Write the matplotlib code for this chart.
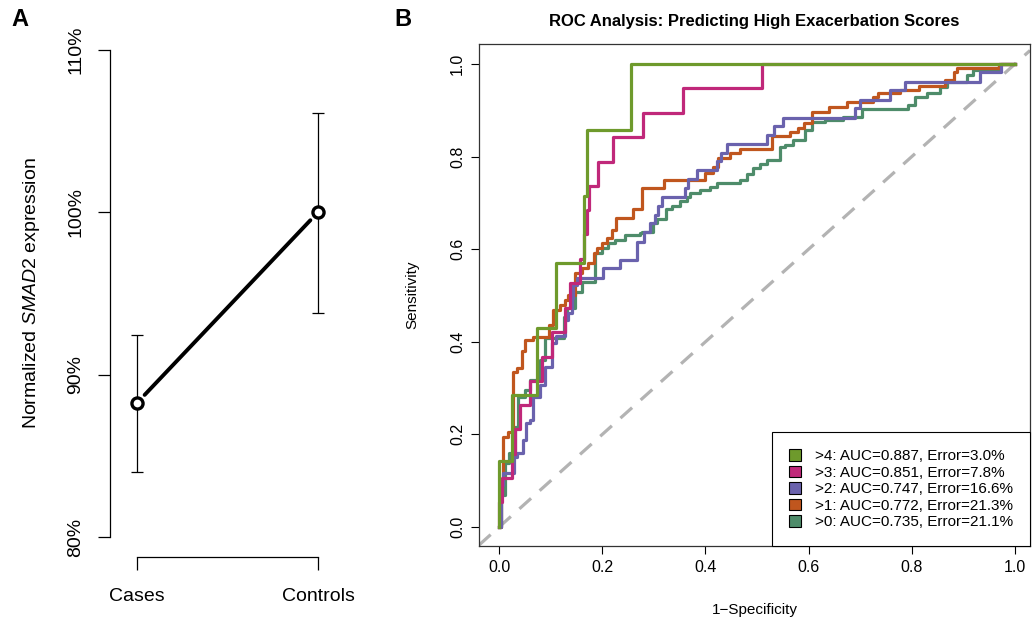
import numpy as np
import matplotlib
matplotlib.use("Agg")
import matplotlib.pyplot as plt
from matplotlib.patches import Patch

plt.rcParams['font.family'] = 'Liberation Sans'
plt.rcParams['mathtext.fontset'] = 'custom'
plt.rcParams['mathtext.it'] = 'Liberation Sans:italic'
plt.rcParams['mathtext.rm'] = 'Liberation Sans'

# panel A: normalized expression
groups = ['Cases', 'Controls']
means = [88.27, 100.0]
lower = [84.02, 93.83]
upper = [92.47, 106.10]
pct_ticks = [80, 90, 100, 110]
pct_labels = ['80%', '90%', '100%', '110%']

# panel B: ROC curves (step corners, fpr -> tpr)
green_fpr = [0, 0, 0.025, 0.074, 0.110, 0.164, 0.171, 0.256, 1.0]
green_tpr = [0, 0.143, 0.286, 0.429, 0.571, 0.714, 0.857, 1.0, 1.0]

magenta_fpr = [0, 0, 0.005, 0.025, 0.031, 0.040, 0.060, 0.083, 0.102, 0.128, 0.138,
               0.157, 0.165, 0.171, 0.175, 0.191, 0.220, 0.278, 0.357, 0.509, 1.0]
magenta_tpr = [0, 0.053, 0.105, 0.158, 0.211, 0.263, 0.316, 0.368, 0.421, 0.474, 0.526,
               0.579, 0.632, 0.684, 0.737, 0.789, 0.842, 0.895, 0.947, 1.0, 1.0]

purple_fpr = [0, 0.004, 0.008, 0.028, 0.034, 0.047, 0.052, 0.060, 0.066, 0.079,
              0.089, 0.102, 0.110, 0.128, 0.134, 0.141, 0.144, 0.151, 0.202, 0.234,
              0.268, 0.280, 0.292, 0.302, 0.307, 0.315, 0.360, 0.367, 0.384, 0.423,
              0.430, 0.442, 0.519, 0.532, 0.550, 0.690, 0.700, 0.758, 0.787, 0.932,
              0.972, 1.0]
purple_tpr = [0, 0.090, 0.116, 0.152, 0.160, 0.188, 0.224, 0.231, 0.281, 0.307,
              0.346, 0.397, 0.412, 0.447, 0.462, 0.494, 0.523, 0.537, 0.559, 0.577,
              0.616, 0.636, 0.656, 0.674, 0.693, 0.712, 0.731, 0.751, 0.770, 0.790,
              0.807, 0.827, 0.847, 0.865, 0.884, 0.904, 0.922, 0.944, 0.962, 0.982,
              1.0, 1.0]

orange_fpr = [0, 0.004, 0.008, 0.018, 0.027, 0.034, 0.044, 0.050, 0.066, 0.096,
              0.104, 0.118, 0.128, 0.134, 0.147, 0.160, 0.173, 0.183, 0.189, 0.199,
              0.209, 0.218, 0.227, 0.260, 0.277, 0.320, 0.399, 0.415, 0.425, 0.448,
              0.467, 0.528, 0.563, 0.580, 0.590, 0.606, 0.640, 0.675, 0.725, 0.735,
              0.777, 0.813, 0.864, 0.881, 0.888, 0.968, 1.0]
orange_tpr = [0, 0.100, 0.195, 0.206, 0.335, 0.343, 0.381, 0.404, 0.411, 0.436,
              0.469, 0.479, 0.490, 0.500, 0.548, 0.559, 0.570, 0.591, 0.602, 0.613,
              0.624, 0.641, 0.667, 0.686, 0.731, 0.750, 0.764, 0.778, 0.796, 0.807,
              0.816, 0.845, 0.854, 0.861, 0.872, 0.897, 0.908, 0.917, 0.928, 0.937,
              0.944, 0.953, 0.965, 0.982, 0.992, 1.0, 1.0]

teal_fpr = [0, 0.004, 0.012, 0.020, 0.031, 0.037, 0.050, 0.060, 0.079, 0.089,
            0.126, 0.131, 0.147, 0.160, 0.186, 0.199, 0.212, 0.225, 0.244, 0.273,
            0.277, 0.298, 0.306, 0.324, 0.335, 0.350, 0.364, 0.370, 0.390, 0.409,
            0.422, 0.467, 0.480, 0.493, 0.506, 0.519, 0.545, 0.554, 0.570, 0.593,
            0.606, 0.632, 0.667, 0.703, 0.793, 0.806, 0.829, 0.855, 0.868, 0.906,
            0.919, 0.968, 1.0]
teal_tpr = [0, 0.070, 0.138, 0.160, 0.217, 0.281, 0.296, 0.317, 0.360, 0.408,
            0.454, 0.472, 0.508, 0.530, 0.591, 0.602, 0.613, 0.620, 0.631, 0.634,
            0.638, 0.657, 0.665, 0.686, 0.694, 0.703, 0.712, 0.722, 0.728, 0.735,
            0.742, 0.749, 0.762, 0.775, 0.784, 0.793, 0.820, 0.825, 0.836, 0.857,
            0.875, 0.879, 0.886, 0.902, 0.911, 0.929, 0.938, 0.951, 0.960, 0.975,
            0.986, 1.0, 1.0]

roc_labels = ['>4: AUC=0.887, Error=3.0%', '>3: AUC=0.851, Error=7.8%',
              '>2: AUC=0.747, Error=16.6%', '>1: AUC=0.772, Error=21.3%',
              '>0: AUC=0.735, Error=21.1%']
roc_colors = ['#6e9a2c', '#c0287a', '#6a62ad', '#c0561e', '#4e8c6a']

fig = plt.figure(figsize=(10.35, 6.27), dpi=100)

# ---- panel A ----
axA = fig.add_axes([110/1035, 70/627, 235/1035, 527/627])
x = np.arange(1, len(groups) + 1)
axA.errorbar(x, means, yerr=[np.array(means) - np.array(lower), np.array(upper) - np.array(means)],
             fmt='none', ecolor='black', elinewidth=0.9, capsize=4.5, capthick=0.9)
axA.annotate('', xy=(x[1], means[1]), xytext=(x[0], means[0]),
             arrowprops=dict(arrowstyle='-', lw=2.8, color='black', shrinkA=8, shrinkB=8))
axA.plot(x, means, 'o', ms=8, mfc='white', mec='black', mew=2.4, ls='none')
axA.set_xlim(0.851, 2.149)
axA.set_ylim(78.8, 111.2)
for s in ['top', 'right']:
    axA.spines[s].set_visible(False)
axA.spines['left'].set_bounds(80, 110)
axA.spines['bottom'].set_bounds(1, 2)
axA.spines['left'].set_linewidth(0.9)
axA.spines['bottom'].set_linewidth(0.9)
axA.set_yticks(pct_ticks)
axA.set_yticklabels(pct_labels, rotation=90, va='center', fontsize=14)
axA.set_xticks(x)
axA.set_xticklabels(groups, fontsize=14)
axA.tick_params(axis='y', length=8.4, width=0.9, pad=10)
axA.tick_params(axis='x', length=9, width=0.9, pad=13)
axA.set_ylabel(r'Normalized $\mathit{SMAD2}$ expression', fontsize=14)
axA.yaxis.set_label_coords(-0.29, 0.5)
fig.text(20/1035, 1 - 20/627, 'A', fontsize=17, fontweight='bold', ha='center', va='center')

# ---- panel B ----
axB = fig.add_axes([479/1035, 81/627, 551/1035, 502/627])
axB.axline((0, 0), (1, 1), color='#b3b3b3', lw=2.3, dashes=(4.9, 3.6))
curves = [(green_fpr, green_tpr), (magenta_fpr, magenta_tpr), (purple_fpr, purple_tpr),
          (orange_fpr, orange_tpr), (teal_fpr, teal_tpr)]
for (fx, ty), c in reversed(list(zip(curves, roc_colors))):
    axB.step(fx, ty, where='post', color=c, lw=2.3)
axB.set_xlim(-0.039, 1.029)
axB.set_ylim(-0.041, 1.043)
ticks = [0.0, 0.2, 0.4, 0.6, 0.8, 1.0]
axB.set_xticks(ticks)
axB.set_yticks(ticks)
axB.set_xticklabels(['%.1f' % t for t in ticks], fontsize=11.5)
axB.set_yticklabels(['%.1f' % t for t in ticks], fontsize=11.5, rotation=90, va='center')
axB.tick_params(length=6, width=0.8, pad=4)
for s in axB.spines.values():
    s.set_linewidth(0.9)
    s.set_color('#333333')
axB.set_xlabel('1\u2212Specificity', fontsize=11)
axB.xaxis.set_label_coords(0.5, -0.114)
axB.set_ylabel('Sensitivity', fontsize=11)
axB.yaxis.set_label_coords(-0.109, 0.5)
axB.set_title('ROC Analysis: Predicting High Exacerbation Scores', fontsize=12,
              fontweight='bold', pad=13)
handles = [Patch(facecolor=c, edgecolor='black', lw=0.8) for c in roc_colors]
leg = axB.legend(handles, roc_labels, loc='lower right', borderaxespad=0, fontsize=11,
                 fancybox=False, edgecolor='black', framealpha=1, handlelength=0.8,
                 handleheight=0.8, labelspacing=0.15, borderpad=1.1, handletextpad=0.9)
leg.get_frame().set_linewidth(0.8)
fig.text(403/1035, 1 - 20/627, 'B', fontsize=17, fontweight='bold', ha='center', va='center')

fig.savefig('out.png', dpi=100)
